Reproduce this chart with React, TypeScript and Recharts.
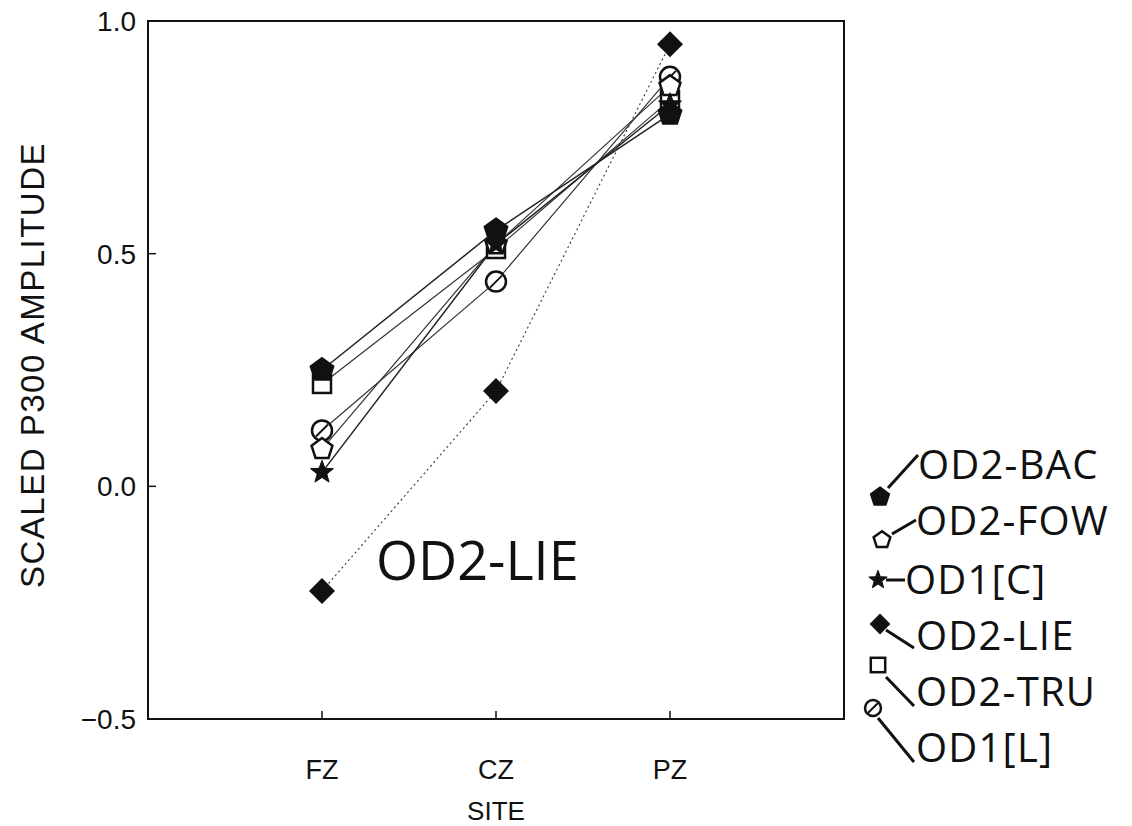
import React from 'react'
import { LineChart, Line, XAxis, YAxis, ReferenceArea } from 'recharts'

const sites = ['FZ', 'CZ', 'PZ']
const sitePos = [1, 2, 3]
const yTicks = [-0.5, 0, 0.5, 1.0]

// values
const od2Bac = [0.25, 0.55, 0.8]
const od2Fow = [0.08, 0.52, 0.86]
const od1C = [0.03, 0.52, 0.82]
const od2Lie = [-0.225, 0.205, 0.95]
const od2Tru = [0.22, 0.51, 0.83]
const od1L = [0.12, 0.44, 0.88]

const data = sites.map((s, i) => ({
  x: sitePos[i],
  site: s,
  bac: od2Bac[i],
  fow: od2Fow[i],
  c: od1C[i],
  lie: od2Lie[i],
  tru: od2Tru[i],
  l: od1L[i],
}))

const INK = '#111'
const SANS = 'Liberation Sans, Arial, sans-serif'

function pentagonPts(cx: number, cy: number, r: number) {
  const pts: string[] = []
  for (let k = 0; k < 5; k++) {
    const a = ((-90 + k * 72) * Math.PI) / 180
    pts.push(`${cx + r * Math.cos(a)},${cy + r * Math.sin(a)}`)
  }
  return pts.join(' ')
}

function starPts(cx: number, cy: number, r: number) {
  const pts: string[] = []
  for (let k = 0; k < 10; k++) {
    const a = ((-90 + k * 36) * Math.PI) / 180
    const rr = k % 2 === 0 ? r : r * 0.42
    pts.push(`${cx + rr * Math.cos(a)},${cy + rr * Math.sin(a)}`)
  }
  return pts.join(' ')
}

type Kind = 'bac' | 'fow' | 'c' | 'lie' | 'tru' | 'l'

function Marker({ kind, cx, cy, s = 1 }: { kind: Kind; cx: number; cy: number; s?: number }) {
  if (kind === 'bac') return <polygon points={pentagonPts(cx, cy, 12 * s)} fill={INK} stroke={INK} strokeWidth={2} />
  if (kind === 'fow') return <polygon points={pentagonPts(cx, cy, 11 * s)} fill="#fff" stroke={INK} strokeWidth={2.5} />
  if (kind === 'c') return <polygon points={starPts(cx, cy, 12 * s)} fill={INK} stroke={INK} strokeWidth={1} />
  if (kind === 'lie') {
    const r = 13 * s
    return <polygon points={`${cx},${cy - r} ${cx + r},${cy} ${cx},${cy + r} ${cx - r},${cy}`} fill={INK} />
  }
  if (kind === 'tru') {
    const h = 9 * s
    return <rect x={cx - h} y={cy - h} width={2 * h} height={2 * h} fill="#fff" stroke={INK} strokeWidth={2.5} />
  }
  const r = 10 * s
  return (
    <g>
      <circle cx={cx} cy={cy} r={r} fill="#fff" stroke={INK} strokeWidth={2.5} />
      <line x1={cx - r * 0.6} y1={cy + r * 0.6} x2={cx + r * 0.6} y2={cy - r * 0.6} stroke={INK} strokeWidth={2} />
    </g>
  )
}

const dotFor = (kind: Kind) => (p: any) =>
  <Marker key={`${kind}-${p.index}`} kind={kind} cx={p.cx} cy={p.cy} />

const XTick = (p: any) => {
  const { x, y, payload } = p
  return (
    <g>
      <line x1={x} y1={y} x2={x} y2={y - 8} stroke={INK} strokeWidth={1.5} />
      <text x={x} y={y + 60} textAnchor="middle" fontFamily={SANS} fontSize={27} fill={INK}>
        {sites[sitePos.indexOf(payload.value)]}
      </text>
    </g>
  )
}

const YTick = (p: any) => {
  const { x, y, payload } = p
  return (
    <g>
      <line x1={x} y1={y} x2={x + 8} y2={y} stroke={INK} strokeWidth={1.5} />
      <text x={x - 12} y={y + 10} textAnchor="end" fontFamily={SANS} fontSize={28} fill={INK}>
        {payload.value < 0 ? '\u2212' : ''}{Math.abs(payload.value).toFixed(1)}
      </text>
    </g>
  )
}

const legendItems: { kind: Kind; label: string; mx: number; my: number; tx: number; ty: number; lead: number[] }[] = [
  { kind: 'bac', label: 'OD2-BAC', mx: 880, my: 497, tx: 918, ty: 463, lead: [888, 488, 918, 455] },
  { kind: 'fow', label: 'OD2-FOW', mx: 882, my: 540, tx: 916, ty: 519, lead: [892, 534, 916, 520] },
  { kind: 'c', label: 'OD1[C]', mx: 878, my: 580, tx: 905, ty: 578, lead: [886, 580, 905, 580] },
  { kind: 'lie', label: 'OD2-LIE', mx: 880, my: 624, tx: 916, ty: 634, lead: [886, 630, 914, 648] },
  { kind: 'tru', label: 'OD2-TRU', mx: 878, my: 665, tx: 916, ty: 690, lead: [886, 677, 914, 706] },
  { kind: 'l', label: 'OD1[L]', mx: 873, my: 708, tx: 916, ty: 746, lead: [878, 718, 914, 762] },
]

export default function App() {
  return (
    <div style={{ position: 'absolute', left: 0, top: 0, width: 1132, height: 826, background: '#fff' }}>
      <LineChart width={1132} height={826} data={data} margin={{ top: 21, right: 288, bottom: 0, left: 0 }}>
        <XAxis
          dataKey="x"
          type="number"
          domain={[0, 4]}
          ticks={sitePos}
          height={107}
          tickSize={0}
          tickMargin={0}
          tick={<XTick />}
          axisLine={{ stroke: INK, strokeWidth: 2 }}
          label={{
            content: (props: any) => {
              const vb = props.viewBox
              return (
                <text x={vb.x + vb.width / 2} y={820} textAnchor="middle" fontFamily={SANS} fontSize={26} fill={INK}>
                  SITE
                </text>
              )
            },
          }}
        />
        <YAxis
          type="number"
          domain={[-0.5, 1]}
          ticks={yTicks}
          width={148}
          tickSize={0}
          tickMargin={0}
          tick={<YTick />}
          axisLine={{ stroke: INK, strokeWidth: 2 }}
          label={{
            content: (props: any) => {
              const vb = props.viewBox
              const cy = vb.y + vb.height / 2 - 5
              return (
                <text
                  x={32}
                  y={cy}
                  transform={`rotate(-90 32 ${cy})`}
                  textAnchor="middle"
                  dominantBaseline="central"
                  fontFamily={SANS}
                  fontSize={33}
                  letterSpacing={1.5}
                  fill={INK}
                >
                  SCALED P300 AMPLITUDE
                </text>
              )
            },
          }}
        />
        <ReferenceArea x1={0} x2={4} y1={-0.5} y2={1} fill="none" stroke={INK} strokeWidth={2} fillOpacity={0} />
        <Line dataKey="lie" stroke="#444" strokeWidth={1.2} strokeDasharray="2 3" dot={dotFor('lie')} isAnimationActive={false} />
        <Line dataKey="l" stroke="#333" strokeWidth={1.2} dot={dotFor('l')} isAnimationActive={false} />
        <Line dataKey="tru" stroke="#333" strokeWidth={1.2} dot={dotFor('tru')} isAnimationActive={false} />
        <Line dataKey="fow" stroke="#333" strokeWidth={1.2} dot={dotFor('fow')} isAnimationActive={false} />
        <Line dataKey="c" stroke="#222" strokeWidth={1.5} dot={dotFor('c')} isAnimationActive={false} />
        <Line dataKey="bac" stroke="#222" strokeWidth={1.5} dot={dotFor('bac')} isAnimationActive={false} />
      </LineChart>
      <svg width={1132} height={826} style={{ position: 'absolute', left: 0, top: 0, pointerEvents: 'none' }}>
        <text x={376} y={559} dominantBaseline="central" fontFamily="Open Sans, sans-serif" fontSize={54} fill={INK}>
          OD2-LIE
        </text>
        {legendItems.map((it) => (
          <g key={it.label}>
            <line x1={it.lead[0]} y1={it.lead[1]} x2={it.lead[2]} y2={it.lead[3]} stroke={INK} strokeWidth={3} />
            <Marker kind={it.kind} cx={it.mx} cy={it.my} s={0.8} />
            <text x={it.tx} y={it.ty} dominantBaseline="central" fontFamily="Open Sans, sans-serif" fontWeight={500} fontSize={40} letterSpacing={1.2} fill={INK}>
              {it.label}
            </text>
          </g>
        ))}
      </svg>
    </div>
  )
}
